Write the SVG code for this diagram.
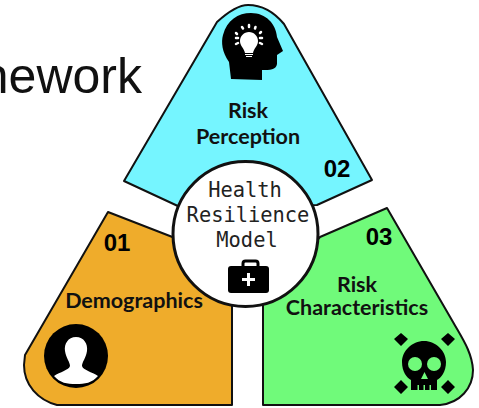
<svg xmlns="http://www.w3.org/2000/svg" width="479" height="408" viewBox="0 0 479 408">
<style>
.panel{stroke:#111;stroke-width:2;stroke-linejoin:round}
.lbl{font-family:"Lato","Noto Sans",sans-serif;font-weight:700;font-size:21.5px;fill:#111;text-anchor:middle}
.num{font-family:"Liberation Sans",Arial,sans-serif;font-weight:700;font-size:24px;fill:#000;text-anchor:middle}
.mono{font-family:"DejaVu Sans Mono",monospace;font-size:20.4px;fill:#222;text-anchor:middle}
</style>
<rect width="479" height="408" fill="#fff"/>
<text id="title" x="142" y="93" text-anchor="end" font-family="Liberation Sans, Arial, sans-serif" font-size="50" fill="#111">nework</text>
<g id="risk-perception">
<path class="panel" fill="#75F5FF" d="M124 181 L217 22 C228 12 238 5 248 5 C262 5 274 12 284 24 L372 180 L317 205 L180 207 Z"/>
<path fill="#000" d="M231 79 L229 62 C222 52 221 42 223 35 C227 20 238 13 251 13 C266 13 276 24 277 37 L283 51 L277 55 L277 64 C276 70 270 70 262 70 L262 80 Z"/>
<path fill="#fff" d="M249 32 C254 32 258 36 258 41 C258 46 254 48 253 53 L245 53 C244 48 240 46 240 41 C240 36 244 32 249 32 Z"/>
<path fill="none" stroke="#fff" stroke-width="1.200" d="M245 54.500 H253 M246 56.500 H252"/>
<path fill="none" stroke="#fff" stroke-width="2.500" stroke-linecap="round" d="M236 33 L237 34 M236 38 H238 M236 44 L238 43 M242 27 L243 28.500 M249 25 V27 M255.500 27 L255 28.500 M261 32 L260 33 M262 38 H260 M262 44 L260 43"/>
<text class="lbl" x="248" y="118">Risk</text>
<text class="lbl" x="248" y="144">Perception</text>
<text class="num" x="337" y="177">02</text>
</g>
<g id="demographics">
<path class="panel" fill="#EFAC2B" d="M108 212 L175 238 L232 303 L232 405 L57 405 C38 400 24 385 24 365 L25 355 Z"/>
<text class="num" x="117" y="251">01</text>
<text class="lbl" x="134" y="308">Demographics</text>
<circle cx="76" cy="356" r="32" fill="#000"/>
<path fill="#fff" d="M76 337 C84 337 88 344 87 351 C86 358 82 362 82 366 C83 370 92 372 98 376 C92 383 85 384 76 384 C67 384 60 383 54 376 C60 372 69 370 70 366 C70 362 66 358 65 351 C64 344 68 337 76 337 Z"/>
</g>
<g id="risk-characteristics">
<path class="panel" fill="#70FA7A" d="M387 208 L320 237 L263 303 L263 405 L440 405 C460 403 473 388 473 370 C472 352 462 338 453 322 Z"/>
<text class="num" x="379" y="245">03</text>
<text class="lbl" x="357" y="292">Risk</text>
<text class="lbl" x="357" y="315">Characteristics</text>
<path fill="#000" d="M424 341 C436 341 446 351 446 362 C446 372 441 378 437 380 V390 H411 V380 C407 378 402 372 402 362 C402 351 412 341 424 341 Z"/>
<circle cx="415" cy="364" r="7" fill="#70FA7A"/><circle cx="434" cy="364" r="7" fill="#70FA7A"/>
<path fill="#70FA7A" d="M424.500 372 L428 379 H421 Z M417.500 385 h1.500 v5 h-1.500 Z M423.500 385 h1.500 v5 h-1.500 Z M429.500 385 h1.500 v5 h-1.500 Z"/>
<path fill="#000" d="M401 333 L408 339 L401 346 L394 339 Z M448 333 L455 339 L448 346 L441 339 Z M401 380 L408 387 L401 394 L394 387 Z M448 380 L455 387 L448 394 L441 387 Z"/>
</g>
<g id="health-resilience-model">
<circle cx="245.500" cy="234" r="72.500" fill="#fff" stroke="#111" stroke-width="3"/>
<text class="mono" x="245" y="197">Health</text>
<text class="mono" x="248" y="222">Resilience</text>
<text class="mono" x="247" y="247">Model</text>
<rect x="243" y="261" width="15" height="9" rx="2.500" fill="none" stroke="#000" stroke-width="3"/>
<rect x="228" y="266" width="41" height="27" rx="3" fill="#000"/>
<path fill="none" stroke="#fff" stroke-width="3" d="M248.500 273 V286 M242 279.500 H255"/>
</g>
<g id="connectors"/>
</svg>
